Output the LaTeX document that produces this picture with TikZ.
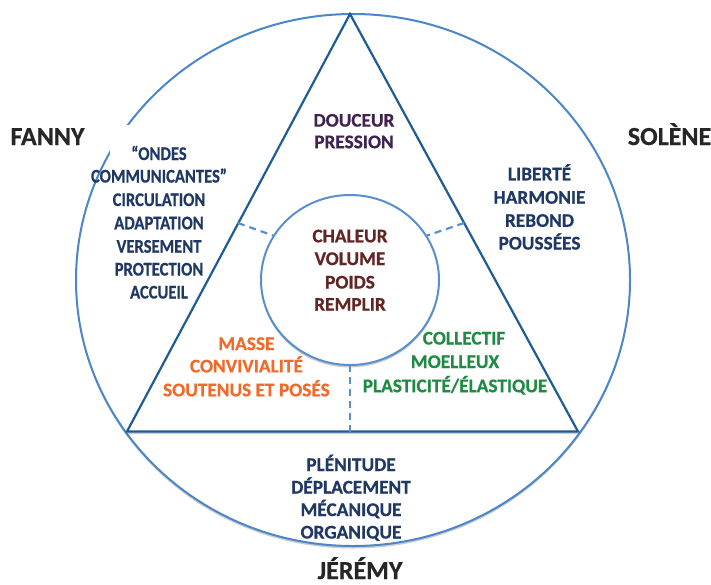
\documentclass[tikz,border=0pt]{standalone}
\usepackage{fontspec}
\setmainfont{Carlito}[BoldFeatures={FakeBold=0.6}]
\usepackage{graphicx}
\usetikzlibrary{shapes.geometric,shadows}
\definecolor{outerblue}{HTML}{4A86C8}
\definecolor{tribl}{HTML}{1F5C94}
\definecolor{innerblue}{HTML}{5A8FCC}
\definecolor{navy}{HTML}{1F3864}
\definecolor{namecol}{HTML}{262626}
\definecolor{purp}{HTML}{3F2350}
\definecolor{brownred}{HTML}{632523}
\definecolor{orng}{HTML}{F26A2A}
\definecolor{grn}{HTML}{1F8B45}
\newcommand{\cond}[1]{\scalebox{0.86}[1]{#1}}
\tikzset{
 softshadow/.style={drop shadow={shadow xshift=0pt, shadow yshift=-2.5pt, opacity=.2, fill=black}},
 ring/.style={draw=outerblue, line width=2pt},
 tri/.style={draw=tribl, line width=2.2pt, line join=miter},
 core/.style={ellipse, draw=innerblue, line width=2pt, fill=white, minimum width=178pt, minimum height=170pt, inner sep=0pt},
 link/.style={draw=innerblue, line width=2.2pt, dash pattern=on 7pt off 5pt},
 txt/.style={anchor=base, inner sep=0pt, font=\fontsize{19.3}{23}\selectfont\bfseries},
 who/.style={anchor=base, inner sep=0pt, font=\fontsize{26}{30}\selectfont\bfseries, text=namecol},
}
\begin{document}
\begin{tikzpicture}[x=1pt,y=-1pt]
\useasboundingbox (0,0) rectangle (711,584);
% outer circle
\path[ring, fill=white, softshadow] (353,280) ellipse [x radius=277pt, y radius=266pt];
\fill[white] (110,125) rectangle (138,160);
% triangle
\coordinate (A) at (350,14);
\coordinate (B) at (127,431.5);
\coordinate (C) at (578,431.5);
\path[tri, fill=white, softshadow] (A) -- (B) -- (C) -- cycle;
% inner circle
\node[core, softshadow] (mid) at (350,280) {};
% dashed connectors
\coordinate (eL) at (238,223);
\coordinate (eR) at (464,223);
\coordinate (eB) at (350,431.5);
\draw[link] (eL) -- (mid.150);
\draw[link] (eR) -- (mid.30);
\draw[link] (eB) -- (mid.south);
% names
\node[who] (fanny) at (47.5,145) {FANNY};
\node[who] (solene) at (669.5,145) {SOLÈNE};
\node[who] (jeremy) at (360,579) {JÉRÉMY};
% top
\node[txt, text=purp] (t1) at (354,126.6) {DOUCEUR};
\node[txt, text=purp] (t2) at (354,148.2) {PRESSION};
% left list
\node[txt, text=navy] (l1) at (159,160) {\cond{“ONDES}};
\node[txt, text=navy] (l2) at (159,182.5) {\cond{COMMUNICANTES”}};
\node[txt, text=navy] (l3) at (159,206) {\cond{CIRCULATION}};
\node[txt, text=navy] (l4) at (159,229.3) {\cond{ADAPTATION}};
\node[txt, text=navy] (l5) at (159,252.7) {\cond{VERSEMENT}};
\node[txt, text=navy] (l6) at (159,275.5) {\cond{PROTECTION}};
\node[txt, text=navy] (l7) at (159,298.5) {\cond{ACCUEIL}};
% right list
\node[txt, text=navy] (r1) at (539.5,180.3) {LIBERTÉ};
\node[txt, text=navy] (r2) at (539.5,203.7) {HARMONIE};
\node[txt, text=navy] (r3) at (539.5,226.8) {REBOND};
\node[txt, text=navy] (r4) at (539.5,249.5) {POUSSÉES};
% centre
\node[txt, text=brownred] (c1) at (350,242.3) {CHALEUR};
\node[txt, text=brownred] (c2) at (350,265) {VOLUME};
\node[txt, text=brownred] (c3) at (350,288.5) {POIDS};
\node[txt, text=brownred] (c4) at (350,310.7) {REMPLIR};
% lower left (orange)
\node[txt, text=orng] (o1) at (246.4,350) {MASSE};
\node[txt, text=orng] (o2) at (246.4,372.4) {CONVIVIALITÉ};
\node[txt, text=orng] (o3) at (246.4,396.3) {SOUTENUS ET POSÉS};
% lower right (green)
\node[txt, text=grn] (g1) at (464,344.5) {COLLECTIF};
\node[txt, text=grn] (g2) at (455,368) {MOELLEUX};
\node[txt, text=grn] (g3) at (455,392.2) {PLASTICITÉ/ÉLASTIQUE};
% bottom
\node[txt, text=navy] (b1) at (351,471) {PLÉNITUDE};
\node[txt, text=navy] (b2) at (351,493.5) {DÉPLACEMENT};
\node[txt, text=navy] (b3) at (351,516) {MÉCANIQUE};
\node[txt, text=navy] (b4) at (351,538.5) {ORGANIQUE};
\end{tikzpicture}
\end{document}
